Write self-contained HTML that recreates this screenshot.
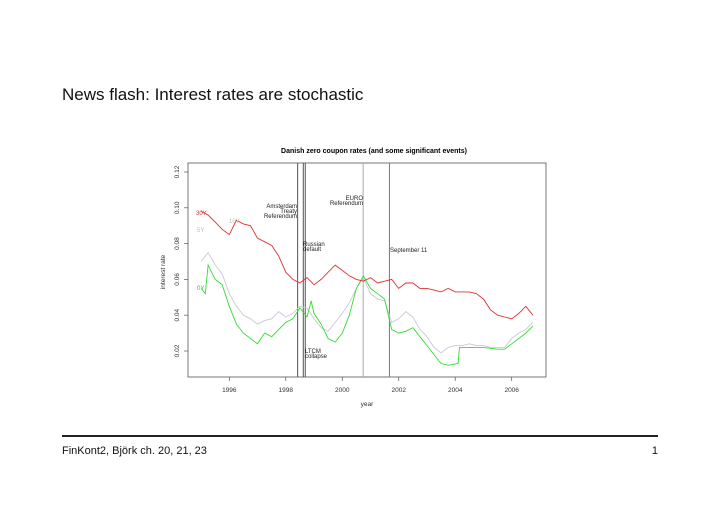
<!DOCTYPE html>
<html><head><meta charset="utf-8"><style>
body{margin:0;width:720px;height:509px;background:#fff;font-family:"Liberation Sans",sans-serif;overflow:hidden;position:relative}
#title{position:absolute;left:62px;top:85px;font-size:17px;color:#111}
#rule{position:absolute;left:62px;top:435px;width:596px;height:1.5px;background:#222}
#foot{position:absolute;left:62px;top:445px;font-size:11px;color:#111}
#pg{position:absolute;right:62px;top:445px;font-size:11px;color:#111}
svg{position:absolute;left:0;top:0}
</style></head><body>
<div id="title">News flash: Interest rates are stochastic</div>
<svg id="chart" width="720" height="509" font-family="Liberation Sans, sans-serif"></svg>
<div id="rule"></div>
<div id="foot">FinKont2, Björk ch. 20, 21, 23</div>
<div id="pg">1</div>
<script>
const xTicks=[1996,1998,2000,2002,2004,2006];
const yTicks=[0.02,0.04,0.06,0.08,0.10,0.12];
const yTickLabels=["0.02","0.04","0.06","0.08","0.10","0.12"];
const t30=[1995.0,1995.25,1995.5,1995.75,1996.0,1996.25,1996.5,1996.75,1997.0,1997.25,1997.5,1997.75,1998.0,1998.25,1998.5,1998.75,1999.0,1999.25,1999.5,1999.75,2000.0,2000.25,2000.5,2000.75,2001.0,2001.25,2001.5,2001.75,2002.0,2002.25,2002.5,2002.75,2003.0,2003.25,2003.5,2003.75,2004.0,2004.25,2004.5,2004.75,2005.0,2005.25,2005.5,2005.75,2006.0,2006.25,2006.5,2006.75];
const r30=[0.098,0.096,0.092,0.088,0.085,0.093,0.091,0.090,0.083,0.081,0.079,0.073,0.064,0.060,0.058,0.061,0.057,0.060,0.064,0.068,0.065,0.062,0.060,0.059,0.061,0.058,0.059,0.060,0.055,0.058,0.058,0.055,0.055,0.054,0.053,0.055,0.053,0.053,0.053,0.052,0.049,0.043,0.040,0.039,0.038,0.041,0.045,0.040];
const t5=t30;
const r5=[0.070,0.075,0.068,0.063,0.052,0.045,0.040,0.038,0.035,0.037,0.038,0.042,0.039,0.041,0.045,0.044,0.038,0.033,0.031,0.036,0.041,0.047,0.055,0.061,0.052,0.049,0.048,0.036,0.038,0.042,0.039,0.032,0.028,0.022,0.019,0.022,0.023,0.023,0.024,0.023,0.023,0.022,0.022,0.022,0.027,0.030,0.032,0.036];
const t0=[1995.0,1995.15,1995.25,1995.5,1995.75,1996.0,1996.25,1996.5,1996.75,1997.0,1997.25,1997.5,1997.75,1998.0,1998.25,1998.5,1998.75,1998.9,1999.0,1999.25,1999.5,1999.75,2000.0,2000.25,2000.5,2000.75,2001.0,2001.25,2001.5,2001.75,2002.0,2002.25,2002.5,2002.75,2003.0,2003.25,2003.5,2003.75,2004.1,2004.15,2004.5,2005.0,2005.5,2005.75,2006.0,2006.25,2006.5,2006.75];
const r0=[0.055,0.052,0.068,0.060,0.057,0.045,0.035,0.030,0.027,0.024,0.030,0.028,0.032,0.036,0.038,0.044,0.039,0.048,0.041,0.035,0.027,0.025,0.030,0.040,0.055,0.062,0.055,0.052,0.049,0.032,0.030,0.031,0.033,0.028,0.023,0.018,0.013,0.012,0.013,0.022,0.022,0.022,0.021,0.021,0.024,0.027,0.030,0.034];
const eventYears=[1998.42,1998.62,1998.69,2000.74,2001.67];
const eventColors=["#555","#555","#555","#aaa","#777"];
const NS="http://www.w3.org/2000/svg",svg=document.getElementById('chart');
const X=v=>229.3+(v-1996)*28.24, Y=v=>351-(v-0.02)*1790;
function el(tag,a,txt){const e=document.createElementNS(NS,tag);for(const k in a)e.setAttribute(k,a[k]);if(txt!==undefined)e.textContent=txt;svg.appendChild(e);return e;}
let e;
e=el('text',{x:374,y:153,'font-size':7,'font-weight':'bold','text-anchor':'middle'},'Danish zero coupon rates (and some significant events)');

e=el('rect',{x:188,y:163,width:358,height:214,fill:'none',stroke:'#555','stroke-width':0.8});

xTicks.forEach(t=>{const x=X(t);el('line',{x1:x,x2:x,y1:377,y2:381,stroke:'#555','stroke-width':0.7});
e=el('text',{x:x,y:392,'font-size':6.5,'text-anchor':'middle',fill:'#333'},String(t));
});
yTicks.forEach((t,i)=>{const y=Y(t);el('line',{x1:184,x2:188,y1:y,y2:y,stroke:'#555','stroke-width':0.7});
e=el('text',{x:0,y:0,'font-size':6.5,'text-anchor':'middle',fill:'#333',transform:`translate(179,${y}) rotate(-90)`},yTickLabels[i]);
});
e=el('text',{x:367,y:406,'font-size':6.5,'text-anchor':'middle',fill:'#333'},'year');

e=el('text',{x:0,y:0,'font-size':6.5,'text-anchor':'middle',fill:'#333',transform:'translate(165,272) rotate(-90)'},'interest rate');

eventYears.forEach((t,i)=>{const x=X(t);e=el('line',{x1:x,x2:x,y1:163,y2:377,stroke:eventColors[i],'stroke-width':1});
});
function series(ts,vs,c,n){const d=ts.map((t,i)=>(i?'L':'M')+X(t).toFixed(1)+','+Y(vs[i]).toFixed(1)).join('');
const p=el('path',{d:d,fill:'none',stroke:c,'stroke-width':0.9});}
series(t5,r5,'#c8c8d8','series-5y');
series(t0,r0,'#33dd33','series-0y');
series(t30,r30,'#e03030','series-30y');
const labels=[[196,215,'30Y','#e03030'],[229,223,'10Y','#bbb'],[197,232,'5Y','#bbb'],[197,290,'0Y','#33cc33']];
labels.forEach(l=>{e=el('text',{x:l[0],y:l[1],'font-size':6,fill:l[3]},l[2]);});
const ann=[[297,208,'Amsterdam','end'],[297,213,'Treaty','end'],[297,218,'Referendum','end'],[363,200,'EURO','end'],[363,205,'Referendum','end'],[303,246,'Russian','start'],[303,251,'default','start'],[390,252,'September 11','start'],[305,353,'LTCM','start'],[305,358,'collapse','start']];
ann.forEach(a=>{e=el('text',{x:a[0],y:a[1],'font-size':6,fill:'#222','text-anchor':a[3]},a[2]);});
</script>
</body></html>
